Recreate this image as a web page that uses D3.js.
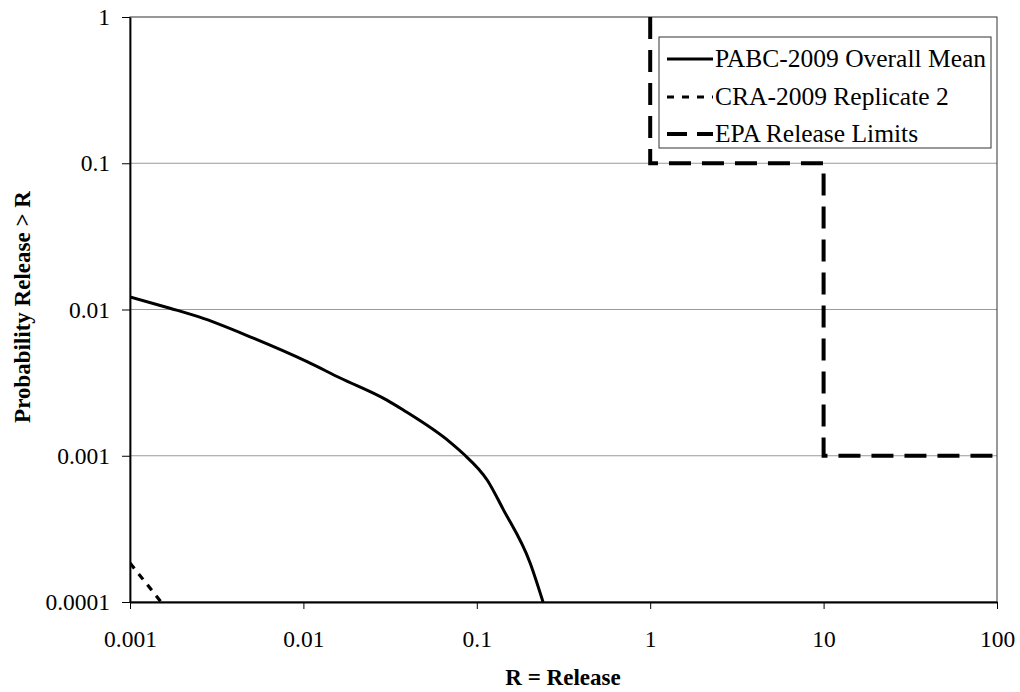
<!DOCTYPE html>
<html>
<head>
<meta charset="utf-8">
<script src="https://cdn.jsdelivr.net/npm/d3@7"></script>
<style>
  html, body { margin: 0; padding: 0; background: #fff; }
  svg { display: block; font-family: "Liberation Serif", "Times New Roman", serif; }
</style>
</head>
<body>
<svg id="chart" width="1020" height="692"></svg>
<script>
// ---- data ----
const pabcR = [0.001, 0.0017, 0.0025, 0.0051, 0.0105, 0.0163, 0.0303, 0.0375, 0.070, 0.083, 0.115, 0.142, 0.203, 0.241];
const pabcP = [0.0122, 0.0102, 0.0089, 0.0064, 0.0044, 0.0034, 0.0024, 0.00206, 0.00124, 0.00104, 0.00068, 0.00043, 0.000185, 0.0001];
const craR = [0.001, 0.00151];
const craP = [0.000185, 0.0001];
const epaR = [1, 1, 10, 10, 100];
const epaP = [1, 0.1, 0.1, 0.001, 0.001];
const xTickValues = [0.001, 0.01, 0.1, 1, 10, 100];
const xTickLabels = ["0.001", "0.01", "0.1", "1", "10", "100"];
const yTickValues = [0.0001, 0.001, 0.01, 0.1, 1];
const yTickLabels = ["0.0001", "0.001", "0.01", "0.1", "1"];
const seriesNames = ["PABC-2009 Overall Mean", "CRA-2009 Replicate 2", "EPA Release Limits"];
const xTitle = "R = Release";
const yTitle = "Probability Release > R";

// ---- layout ----
const L = 130, R = 997, T = 17, B = 602;
const svg = d3.select("#chart");
const x = d3.scaleLog().domain([0.001, 100]).range([L, R]);
const y = d3.scaleLog().domain([0.0001, 1]).range([B, T]);

svg.append("defs").append("clipPath").attr("id", "clip")
  .append("rect").attr("x", L).attr("y", T - 2).attr("width", R - L + 2).attr("height", B - T + 2);

// gridlines
svg.append("g").selectAll("line").data(yTickValues.filter(v => v > 0.0001 && v < 1)).join("line")
  .attr("x1", L).attr("x2", R).attr("y1", d => y(d)).attr("y2", d => y(d))
  .attr("stroke", "#9a9a9a").attr("stroke-width", 1);

// plot border (top/right)
svg.append("rect").attr("x", L).attr("y", T).attr("width", R - L).attr("height", B - T)
  .attr("fill", "none").attr("stroke", "#333").attr("stroke-width", 1);

// axes
const fmtX = d => xTickLabels[xTickValues.indexOf(d)];
const fmtY = d => yTickLabels[yTickValues.indexOf(d)];
const gx = svg.append("g").attr("transform", `translate(0,${B})`)
  .call(d3.axisBottom(x).tickValues(xTickValues).tickFormat(fmtX).tickSize(7).tickSizeOuter(0).tickPadding(21));
const gy = svg.append("g").attr("transform", `translate(${L},0)`)
  .call(d3.axisLeft(y).tickValues(yTickValues).tickFormat(fmtY).tickSize(8).tickSizeOuter(0).tickPadding(12));
[gx, gy].forEach(g => {
  g.select(".domain").attr("stroke", "#000").attr("stroke-width", 1.8);
  g.selectAll(".tick line").attr("stroke", "#000").attr("stroke-width", 1);
  g.selectAll(".tick text").attr("fill", "#000").style("font-size", "23.5px")
    .style("font-family", '"Liberation Serif", "Times New Roman", serif');
});

// lines
const line = d3.line().x(d => x(d[0])).y(d => y(d[1])).curve(d3.curveMonotoneX);
const plot = svg.append("g").attr("clip-path", "url(#clip)");
plot.append("path").datum(pabcR.map((r, i) => [r, pabcP[i]]))
  .attr("d", line).attr("fill", "none").attr("stroke", "#000").attr("stroke-width", 3);
plot.append("path").datum(craR.map((r, i) => [r, craP[i]]))
  .attr("d", d3.line().x(d => x(d[0])).y(d => y(d[1]))).attr("fill", "none").attr("stroke", "#000").attr("stroke-width", 3.2)
  .attr("stroke-dasharray", "7,7");
plot.append("path").datum(epaR.map((r, i) => [r, epaP[i]]))
  .attr("d", d3.line().x(d => x(d[0])).y(d => y(d[1]))).attr("fill", "none").attr("stroke", "#000").attr("stroke-width", 4)
  .attr("stroke-dasharray", "22,11");

// legend
const lg = svg.append("g");
lg.append("rect").attr("x", 659).attr("y", 37).attr("width", 332).attr("height", 111)
  .attr("fill", "#fff").attr("stroke", "#333").attr("stroke-width", 1);
const styles = [
  { w: 3, dash: null },
  { w: 3, dash: "7,8" },
  { w: 4, dash: "20,10" }
];
const rowY = [59, 97, 134];
seriesNames.forEach((name, i) => {
  lg.append("line").attr("x1", 667).attr("x2", 713).attr("y1", rowY[i]).attr("y2", rowY[i])
    .attr("stroke", "#000").attr("stroke-width", styles[i].w)
    .attr("stroke-dasharray", styles[i].dash);
  lg.append("text").attr("x", 715).attr("y", rowY[i]).attr("dy", "0.33em")
    .style("font-size", "25.5px").attr("fill", "#000").text(name);
});

// titles
svg.append("text").attr("x", 563).attr("y", 685).attr("text-anchor", "middle")
  .style("font-size", "23px").style("font-weight", "bold").text(xTitle);
svg.append("text").attr("transform", "translate(30,307) rotate(-90)").attr("text-anchor", "middle")
  .style("font-size", "23px").style("font-weight", "bold").text(yTitle);
</script>
</body>
</html>
